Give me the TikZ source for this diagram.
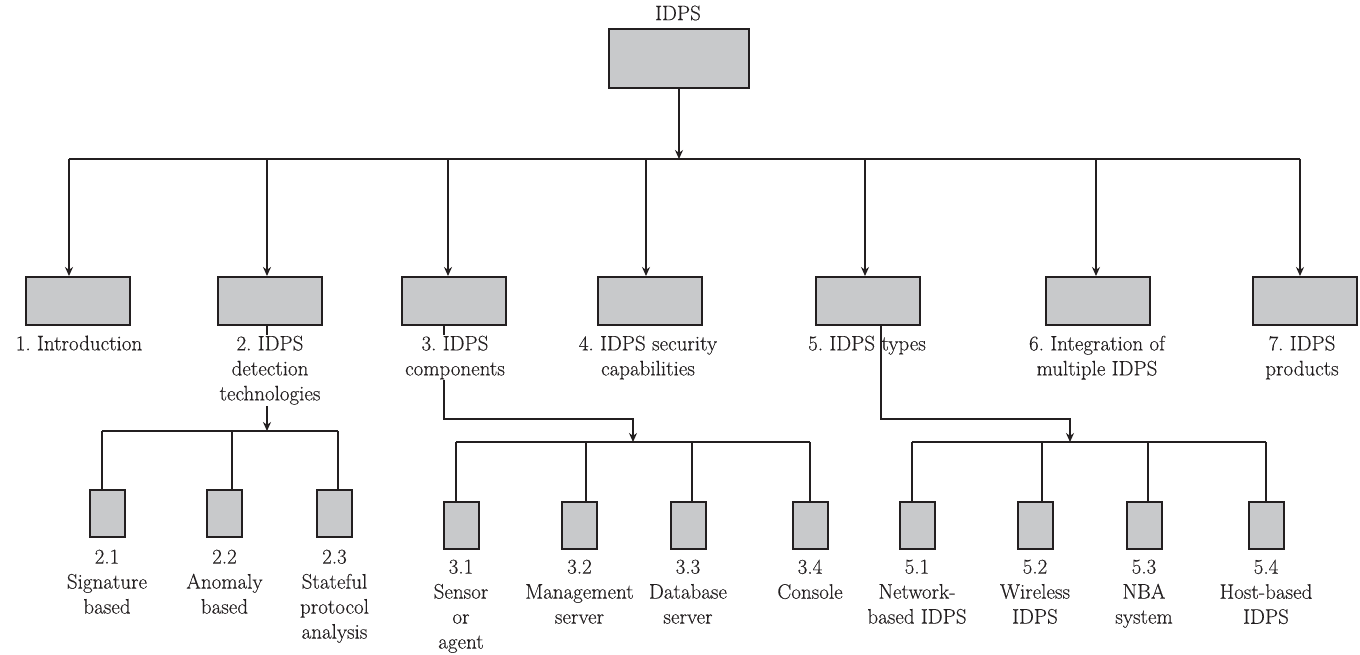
\documentclass[tikz,border=0pt]{standalone}
\usepackage{fontspec}
\usetikzlibrary{arrows.meta}
\newfontfamily\lblfont[FakeBold=0.3]{Latin Modern Roman}
\definecolor{ink}{HTML}{231F20}
\definecolor{boxgray}{HTML}{C8C9CB}
\begin{document}
\frenchspacing
\begin{tikzpicture}[x=1pt,y=-1pt,
  box/.style={draw=ink, fill=boxgray, line width=2pt, inner sep=0pt,
              minimum width=104pt, minimum height=48pt},
  rootbox/.style={box, minimum width=140pt, minimum height=59pt},
  leaf/.style={box, minimum width=35pt, minimum height=47pt},
  conn/.style={draw=ink, line width=2pt},
  arr/.style={conn, -{Stealth[length=9pt,width=8pt]}},
  lbl/.style={text=ink, font=\lblfont\fontsize{21}{25}\selectfont, align=center,
              inner sep=1pt, anchor=north},
  cover/.style={lbl, fill=white},
]
\useasboundingbox (0,0) rectangle (1360,655);

% root
\node[rootbox] (root) at (679,58.5) {};
\node[lbl, anchor=center] (rootlbl) at (678,13) {IDPS};

% chapter boxes
\node[box] (b1) at (78,301) {};
\node[box] (b2) at (270,301) {};
\node[box] (b3) at (454,301) {};
\node[box] (b4) at (650,301) {};
\node[box] (b5) at (867.5,301) {};
\node[box] (b6) at (1097.5,301) {};
\node[box] (b7) at (1305,301) {};

% main distribution bar
\coordinate (hub) at (679,159);
\coordinate (t1) at (69,159);
\coordinate (t2) at (267,159);
\coordinate (t3) at (448,159);
\coordinate (t4) at (646,159);
\coordinate (t5) at (865,159);
\coordinate (t6) at (1096,159);
\coordinate (t7) at (1300,159);
\draw[conn] (t1) -- (t7);
\draw[arr] (root) -- (hub);
\foreach \i in {1,...,7}{\draw[arr] (t\i) -- (t\i |- b\i.north);}

% sub boxes of chapter 2
\node[leaf] (c21) at (107,513.5) {};
\node[leaf] (c22) at (224.5,513.5) {};
\node[leaf] (c23) at (334.5,513.5) {};
\coordinate (k2) at (267,431);
\coordinate (d21) at (102,431);
\coordinate (d22) at (232,431);
\coordinate (d23) at (338,431);
\draw[arr] (b2.south -| k2) -- (k2);
\draw[conn] (d21) -- (d23);
\foreach \i in {1,2,3}{\draw[conn] (d2\i) -- (d2\i |- c2\i.north);}

% sub boxes of chapter 3
\node[leaf] (c31) at (461,525.5) {};
\node[leaf] (c32) at (579.5,525.5) {};
\node[leaf] (c33) at (688,525.5) {};
\node[leaf] (c34) at (810,525.5) {};
\coordinate (j3) at (444,419);
\coordinate (k3) at (633,442);
\coordinate (d31) at (456,442);
\coordinate (d32) at (586,442);
\coordinate (d33) at (692,442);
\coordinate (d34) at (810,442);
\draw[arr] (b3.south -| j3) -- (j3) -| (k3);
\draw[conn] (d31) -- (d34);
\foreach \i in {1,...,4}{\draw[conn] (d3\i) -- (d3\i |- c3\i.north);}

% sub boxes of chapter 5
\node[leaf] (c51) at (917,525.5) {};
\node[leaf] (c52) at (1035,525.5) {};
\node[leaf] (c53) at (1144,525.5) {};
\node[leaf] (c54) at (1266,525.5) {};
\coordinate (j5) at (881,419);
\coordinate (k5) at (1070,442);
\coordinate (d51) at (912,442);
\coordinate (d52) at (1042,442);
\coordinate (d53) at (1148,442);
\coordinate (d54) at (1266,442);
\draw[arr] (b5.south -| j5) -- (j5) -| (k5);
\draw[conn] (d51) -- (d54);
\foreach \i in {1,...,4}{\draw[conn] (d5\i) -- (d5\i |- c5\i.north);}

% chapter labels
\node[cover] (l1) at (79,334.5) {1. Introduction};
\node[cover] (l2) at (270,334.5) {2. IDPS\\detection\\technologies};
\node[cover] (l3) at (455,334.5) {3. IDPS\\components};
\node[cover] (l4) at (648,334.5) {4. IDPS security\\capabilities};
\node[lbl]   (l5) at (867,334.5) {5. IDPS types};
\node[cover] (l6) at (1097,334.5) {6. Integration of\\multiple IDPS};
\node[cover] (l7) at (1302,334.5) {7. IDPS\\products};

% section labels
\node[lbl] (m21) at (107,548.5) {2.1\\Signature\\based};
\node[lbl] (m22) at (224.5,548.5) {2.2\\Anomaly\\based};
\node[lbl] (m23) at (334.5,548.5) {2.3\\Stateful\\protocol\\analysis};
\node[lbl] (m31) at (461,558.5) {3.1\\Sensor\\or\\agent};
\node[lbl] (m32) at (579.5,558.5) {3.2\\Management\\server};
\node[lbl] (m33) at (688,558.5) {3.3\\Database\\server};
\node[lbl] (m34) at (810,558.5) {3.4\\Console};
\node[lbl] (m51) at (917,558.5) {5.1\\Network-\\based IDPS};
\node[lbl] (m52) at (1035,558.5) {5.2\\Wireless\\IDPS};
\node[lbl] (m53) at (1144,558.5) {5.3\\NBA\\system};
\node[lbl] (m54) at (1266,558.5) {5.4\\Host-based\\IDPS};
\end{tikzpicture}
\end{document}
